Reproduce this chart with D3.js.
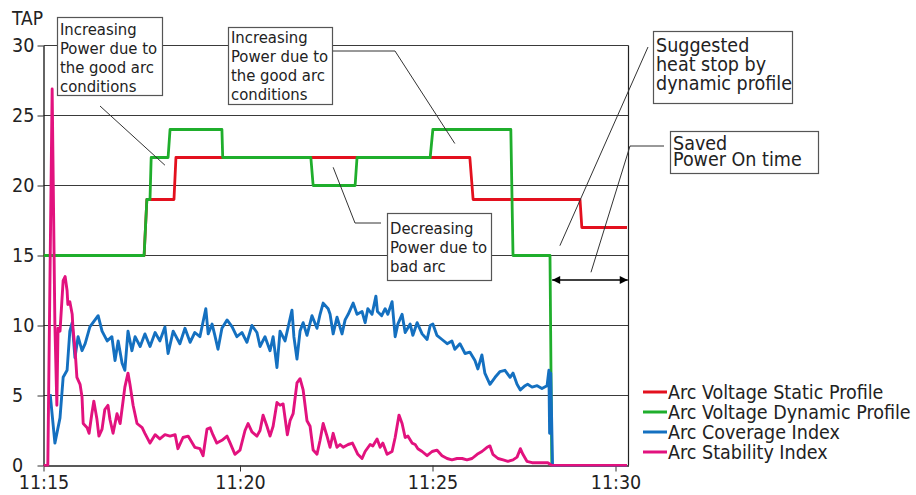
<!DOCTYPE html>
<html><head><meta charset="utf-8">
<script src="https://cdn.jsdelivr.net/npm/d3@7"></script>
<style>
html,body{margin:0;padding:0;background:#fff;}
svg{display:block;font-family:'DejaVu Sans Condensed','DejaVu Sans',sans-serif;}
</style></head>
<body><svg id="c" width="916" height="495"></svg>
<script>
// ---- data (minutes after 11:15, TAP value) ----
const seriesNames = ["Arc Voltage Static Profile","Arc Voltage Dynamic Profile","Arc Coverage Index","Arc Stability Index"];
const seriesColors = ["#e3101e","#1fae2c","#1470c0","#e2127e"];
const yTicks = [0,5,10,15,20,25,30];
const xTickMinutes = [0,5,10,15];

const staticProfile = [[0,15],[2.56,15],[2.63,19],[3.32,19],[3.37,22],[11.02,22],[11.11,19],[14.03,19],[14.08,17],[15.31,17]];

const dynamicProfile = [[0,15],[2.56,15],[2.63,19],[2.71,19],[2.74,22],[3.17,22],[3.22,24],[4.54,24],[4.56,22],
 [6.84,22],[6.90,20],[7.99,20],[8.04,22],[9.94,22],[10.01,24],[12.14,24],[12.20,15],[13.21,15],[13.26,0]];

const coverageIndex = [[0.17,5.1],[0.29,1.6],[0.42,3.4],[0.50,6.3],[0.60,6.8],[0.67,9.6],[0.73,10.2],[0.80,7.7],[0.88,9.2],
 [0.98,8.2],[1.06,8.7],[1.18,9.9],[1.39,10.7],[1.49,9.6],[1.62,8.9],[1.74,9.2],[1.82,7.5],[1.90,8.9],[2.00,7.3],[2.07,6.8],
 [2.15,9.6],[2.25,8.2],[2.33,9.2],[2.46,8.5],[2.58,9.4],[2.71,8.5],[2.84,9.5],[2.96,8.9],[3.09,9.9],[3.17,8.0],[3.30,9.6],
 [3.47,8.7],[3.60,9.8],[3.73,8.8],[3.85,9.5],[3.98,9.2],[4.13,11.2],[4.19,9.4],[4.29,10.1],[4.36,9.3],[4.44,8.3],[4.54,9.8],
 [4.67,10.4],[4.80,9.9],[4.92,9.2],[5.05,9.5],[5.18,8.8],[5.31,10.0],[5.44,9.5],[5.52,8.5],[5.65,9.2],[5.78,8.2],[5.86,9.2],
 [5.96,7.0],[6.04,9.6],[6.17,8.9],[6.35,11.1],[6.40,9.2],[6.48,7.6],[6.56,9.6],[6.64,10.2],[6.74,9.3],[6.87,10.7],[7.00,9.8],
 [7.08,10.8],[7.16,11.6],[7.29,11.2],[7.34,10.8],[7.42,9.4],[7.52,10.6],[7.65,9.4],[7.73,10.4],[7.81,10.8],[7.94,11.6],
 [8.04,10.8],[8.17,11.0],[8.25,10.2],[8.32,11.2],[8.43,10.8],[8.53,12.1],[8.57,11.0],[8.68,10.7],[8.77,11.2],[8.84,10.8],
 [8.95,11.7],[9.03,9.2],[9.10,10.1],[9.21,10.8],[9.29,9.5],[9.42,10.1],[9.49,9.3],[9.60,10.2],[9.73,9.4],[9.86,9.0],[9.94,10.0],
 [10.01,10.1],[10.12,9.3],[10.26,9.0],[10.40,8.7],[10.53,8.9],[10.61,8.3],[10.75,8.7],[10.89,8.0],[11.02,8.1],[11.16,7.5],
 [11.24,6.9],[11.35,7.9],[11.43,6.6],[11.57,5.8],[11.71,6.3],[11.84,6.7],[11.98,6.8],[12.12,6.3],[12.20,6.6],[12.31,5.8],
 [12.40,5.4],[12.53,5.7],[12.60,5.8],[12.72,5.6],[12.86,5.7],[12.99,5.5],[13.13,5.7],[13.18,6.8],[13.20,2.3],[13.23,6.6],
 [13.28,0],[15.31,0]];

const stabilityIndex = [[0,0],[0.11,0],[0.22,26.9],[0.29,10],[0.34,4.3],[0.37,9.8],[0.42,9.6],[0.50,13.2],[0.55,13.5],
 [0.60,12.5],[0.62,11.5],[0.67,11.7],[0.73,10.8],[0.75,9.8],[0.80,8.4],[0.85,6.3],[0.93,5.8],[0.98,4.9],[1.01,3.0],[1.11,2.7],
 [1.16,2.3],[1.23,3.7],[1.28,4.6],[1.36,3.3],[1.41,2.1],[1.49,2.6],[1.56,4.0],[1.64,4.3],[1.69,3.3],[1.77,2.3],[1.82,3.0],
 [1.87,3.7],[1.95,3.0],[2.02,4.5],[2.07,5.6],[2.15,6.6],[2.20,5.8],[2.28,4.3],[2.38,3.0],[2.51,2.7],[2.58,2.3],[2.71,1.6],
 [2.84,2.2],[2.96,1.9],[3.09,2.2],[3.22,2.1],[3.35,2.2],[3.42,1.2],[3.55,2.0],[3.68,2.1],[3.85,1.3],[3.98,1.2],[4.06,0.7],
 [4.16,2.6],[4.24,2.7],[4.31,2.2],[4.41,1.6],[4.54,1.8],[4.67,2.1],[4.75,1.6],[4.87,0.8],[5.00,1.1],[5.13,2.5],[5.21,3.0],
 [5.31,2.4],[5.44,2.1],[5.52,2.5],[5.60,3.6],[5.70,2.8],[5.78,2.1],[5.86,2.8],[5.96,4.5],[6.04,4.3],[6.12,4.4],[6.23,2.2],
 [6.30,3.2],[6.38,3.7],[6.48,5.9],[6.56,6.2],[6.64,5.4],[6.74,3.2],[6.82,2.8],[6.90,1.1],[7.00,0.8],[7.08,1.8],[7.16,3.0],
 [7.26,2.1],[7.34,1.3],[7.42,2.3],[7.52,1.3],[7.60,1.5],[7.68,1.3],[7.81,1.5],[7.92,1.6],[7.99,1.2],[8.06,0.8],[8.17,0.5],
 [8.25,1.0],[8.38,1.5],[8.45,1.4],[8.56,1.9],[8.64,1.3],[8.71,1.6],[8.82,0.8],[8.95,1.0],[9.03,2.0],[9.13,3.6],[9.21,3.0],
 [9.29,2.0],[9.36,2.1],[9.47,1.6],[9.55,1.5],[9.62,1.2],[9.73,1.0],[9.86,0.7],[9.99,1.0],[10.12,1.1],[10.26,0.7],[10.40,0.5],
 [10.53,0.4],[10.67,0.5],[10.81,0.5],[10.94,0.4],[11.08,0.5],[11.22,0.8],[11.35,1.0],[11.49,1.3],[11.57,1.4],[11.65,0.8],
 [11.79,0.5],[11.93,0.4],[12.06,0.3],[12.20,0.4],[12.31,0.6],[12.40,1.2],[12.47,0.8],[12.58,0.3],[12.72,0.2],[12.94,0.2],
 [13.15,0.2],[13.26,0],[15.31,0]];

const annotations = [
 {lines:["Increasing","Power due to","the good arc","conditions"]},
 {lines:["Increasing","Power due to","the good arc","conditions"]},
 {lines:["Decreasing","Power due to","bad arc"]},
 {lines:["Suggested","heat stop by","dynamic profile"]},
 {lines:["Saved","Power On time"]}
];

// ---- drawing ----
(function(){
const T0 = new Date(2000,0,1,11,15,0);
const tm = m => new Date(T0.getTime() + m*60000);
const x = d3.scaleTime().domain([0,5,10,15,15.35].map(tm)).range([43.5,240,432.5,615.5,628.5]);
const y = d3.scaleLinear().domain([0,30]).range([465.5,45.5]);
const svg = d3.select("#c");
const pL = x(tm(0)), pR = x(tm(15.35)), pT = y(30), pB = y(0);
const txt = "#222";
const ff = "'DejaVu Sans Condensed','DejaVu Sans',sans-serif";

// gridlines
svg.append("g").selectAll("line").data(yTicks.filter(d=>d>0)).join("line")
  .attr("x1",pL).attr("x2",pR).attr("y1",d=>y(d)).attr("y2",d=>y(d))
  .attr("stroke","#3a3a3a").attr("stroke-width",1.2);
svg.append("line").attr("x1",pR).attr("x2",pR).attr("y1",pT).attr("y2",pB)
  .attr("stroke","#222").attr("stroke-width",1.2);

// axes
const ya = svg.append("g").attr("transform",`translate(${pL},0)`)
  .call(d3.axisLeft(y).tickValues(yTicks).tickSize(6).tickSizeOuter(0));
ya.select(".domain").attr("stroke","#111").attr("stroke-width",1.3);
ya.selectAll(".tick line").attr("stroke","#333");
ya.selectAll("text").attr("x",12-pL).attr("text-anchor","start").attr("fill",txt)
  .style("font-size","19.5px").style("font-family",ff);

const xa = svg.append("g").attr("transform",`translate(0,${pB})`)
  .call(d3.axisBottom(x).tickValues(xTickMinutes.map(tm)).tickFormat(d3.timeFormat("%H:%M")).tickSize(6).tickSizeOuter(0).tickPadding(4));
xa.select(".domain").attr("stroke","#222").attr("stroke-width",1.3);
xa.selectAll(".tick line").attr("stroke","#333");
xa.selectAll("text").attr("fill",txt).style("font-size","19.5px").style("font-family",ff);

svg.append("text").attr("x",12).attr("y",25).text("TAP").attr("fill",txt).style("font-size","19px");

// series
svg.append("clipPath").attr("id","pc").append("rect")
  .attr("x",pL).attr("y",pT-5).attr("width",pR-pL).attr("height",pB-pT+6);
const line = d3.line().x(d=>x(tm(d[0]))).y(d=>y(d[1]));
const allSeries = [staticProfile, dynamicProfile, coverageIndex, stabilityIndex];
svg.append("g").attr("clip-path","url(#pc)").selectAll("path").data(allSeries).join("path")
  .attr("d",line).attr("fill","none")
  .attr("stroke",(d,i)=>seriesColors[i]).attr("stroke-width",(d,i)=>i<2?2.8:2.9)
  .attr("stroke-linejoin","round");

// annotation boxes
const boxes = [
 {x:57,y:17,w:105,h:78,tx:60,ty:35,fs:16.5,lh:19},
 {x:228,y:27,w:104,h:77,tx:231,ty:43,fs:16.5,lh:19},
 {x:387,y:213,w:104,h:67,tx:390,ty:234,fs:16.5,lh:19},
 {x:653,y:31,w:139,h:72,tx:656,ty:52,fs:19.5,lh:19},
 {x:670,y:131,w:148,h:42,tx:673,ty:150,fs:19.5,lh:16}
];
const ag = svg.append("g");
boxes.forEach((b,i)=>{
  ag.append("rect").attr("x",b.x+0.5).attr("y",b.y+0.5).attr("width",b.w).attr("height",b.h)
    .attr("fill","#fff").attr("stroke","#555").attr("stroke-width",1.2);
  const t = ag.append("text").attr("fill",txt).style("font-size",b.fs+"px");
  annotations[i].lines.forEach((s,j)=>t.append("tspan").attr("x",b.tx).attr("y",b.ty+j*b.lh).text(s));
});

// leader lines
const leaders = [
 [[100,106],[x(tm(3.09)),y(21.45)]],
 [[333,51],[395,51],[x(tm(10.61)),y(23.0)]],
 [[x(tm(7.42)),y(21.3)],[355,223],[381,223]],
 [[648,47],[x(tm(13.48)),y(15.7)]],
 [[664,146],[630,146],[x(tm(14.33)),y(13.8)]]
];
ag.selectAll("path.ld").data(leaders).join("path").attr("class","ld")
  .attr("d",d3.line()).attr("fill","none").attr("stroke","#333").attr("stroke-width",1);

// saved-time arrow
const defs = svg.append("defs");
["s","e"].forEach(k=>{
  defs.append("marker").attr("id","ah"+k).attr("viewBox","0 0 10 10").attr("refX",k==="e"?10:0).attr("refY",5)
    .attr("markerWidth",10).attr("markerHeight",8).attr("markerUnits","userSpaceOnUse").attr("orient","auto")
    .append("path").attr("d",k==="e"?"M0,0L10,5L0,10Z":"M10,0L0,5L10,10Z").attr("fill","#000");
});
svg.append("line").attr("x1",x(tm(13.27))).attr("x2",x(tm(15.33))).attr("y1",y(13.25)).attr("y2",y(13.25))
  .attr("stroke","#000").attr("stroke-width",1.5)
  .attr("marker-start","url(#ahs)").attr("marker-end","url(#ahe)");

// legend
const lg = svg.append("g").selectAll("g").data(seriesNames).join("g")
  .attr("transform",(d,i)=>`translate(643,${392+i*20})`);
lg.append("line").attr("x1",0).attr("x2",24).attr("stroke",(d,i)=>seriesColors[i]).attr("stroke-width",3);
lg.append("text").attr("x",25).attr("y",7).text(d=>d).attr("fill",txt).style("font-size","19.5px");
})();
</script></body></html>
